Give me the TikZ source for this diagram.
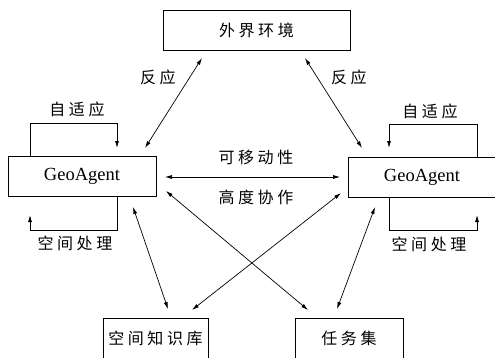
\documentclass[tikz,border=0pt]{standalone}
\usepackage{fontspec}
\setmainfont{Liberation Serif}
\newfontfamily\cjk[LetterSpace=22]{Noto Sans CJK SC}
\usetikzlibrary{arrows.meta}
\begin{document}
\begin{tikzpicture}[x=1pt,y=-1pt,
  line width=0.8pt,
  box/.style={draw,line width=0.8pt,inner sep=0pt,font=\cjk\fontsize{16}{18}\selectfont},
  agent/.style={draw,line width=0.8pt,inner sep=0pt,minimum width=148pt,minimum height=40pt,font=\fontsize{18.5}{20}\selectfont},
  lbl/.style={inner sep=0pt,font=\cjk\fontsize{16}{18}\selectfont},
  link/.style={{Latex[length=7pt,width=4pt]}-{Latex[length=7pt,width=4pt]},line width=0.7pt},
  loop/.style={-{Latex[length=7pt,width=4pt]},line width=0.8pt}]
\useasboundingbox (0,0) rectangle (495,357);
\clip (0,0) rectangle (495,357);
\fill[white] (0,0) rectangle (495,357);
% boxes
\node[box,minimum width=187pt,minimum height=40pt] (env) at (256.5,30) {外界环境};
\node[agent] (la) at (82,176.5) {GeoAgent};
\node[agent] (ra) at (422,177) {GeoAgent};
\node[box,minimum width=105pt,minimum height=40pt] (kb) at (155.5,338) {空间知识库};
\node[box,minimum width=108pt,minimum height=40pt] (ts) at (349,338) {任务集};
% labels
\node[lbl] (r1) at (158,77) {反应};
\node[lbl] (r2) at (349,77) {反应};
\node[lbl] (s1) at (77,109) {自适应};
\node[lbl] (s2) at (430,111) {自适应};
\node[lbl] (p1) at (75,243) {空间处理};
\node[lbl] (p2) at (429,244) {空间处理};
\node[lbl] (m1) at (256,157) {可移动性};
\node[lbl] (m2) at (256,197) {高度协作};
% connector ends
\coordinate (a1s) at (145,148); \coordinate (a1e) at (202,58);
\coordinate (a2s) at (362,148); \coordinate (a2e) at (305,58);
\coordinate (a3s) at (165,177); \coordinate (a3e) at (340,177);
\coordinate (a4s) at (166,191); \coordinate (a4e) at (308,310);
\coordinate (a5s) at (341,193); \coordinate (a5e) at (192,310);
\coordinate (a6s) at (133,207); \coordinate (a6e) at (168,309);
\coordinate (a7s) at (375,207); \coordinate (a7e) at (337,309);
\draw[link] (a1s) -- (a1e);
\draw[link] (a2s) -- (a2e);
\draw[link] (a3s) -- (a3e);
\draw[link] (a4s) -- (a4e);
\draw[link] (a5s) -- (a5e);
\draw[link] (a6s) -- (a6e);
\draw[link] (a7s) -- (a7e);
% loops
\coordinate (l1a) at (30,156.5); \coordinate (l1b) at (117,148);
\coordinate (l2a) at (117,196.5); \coordinate (l2b) at (30,215);
\coordinate (l3a) at (477,157); \coordinate (l3b) at (389,148);
\coordinate (l4a) at (389,197); \coordinate (l4b) at (477,215);
\draw[loop] (l1a) -- (30,123) -| (l1b);
\draw[loop] (l2a) -- (117,230) -| (l2b);
\draw[loop] (l3a) -- (477,124) -| (l3b);
\draw[loop] (l4a) -- (389,230) -| (l4b);
\end{tikzpicture}
\end{document}
